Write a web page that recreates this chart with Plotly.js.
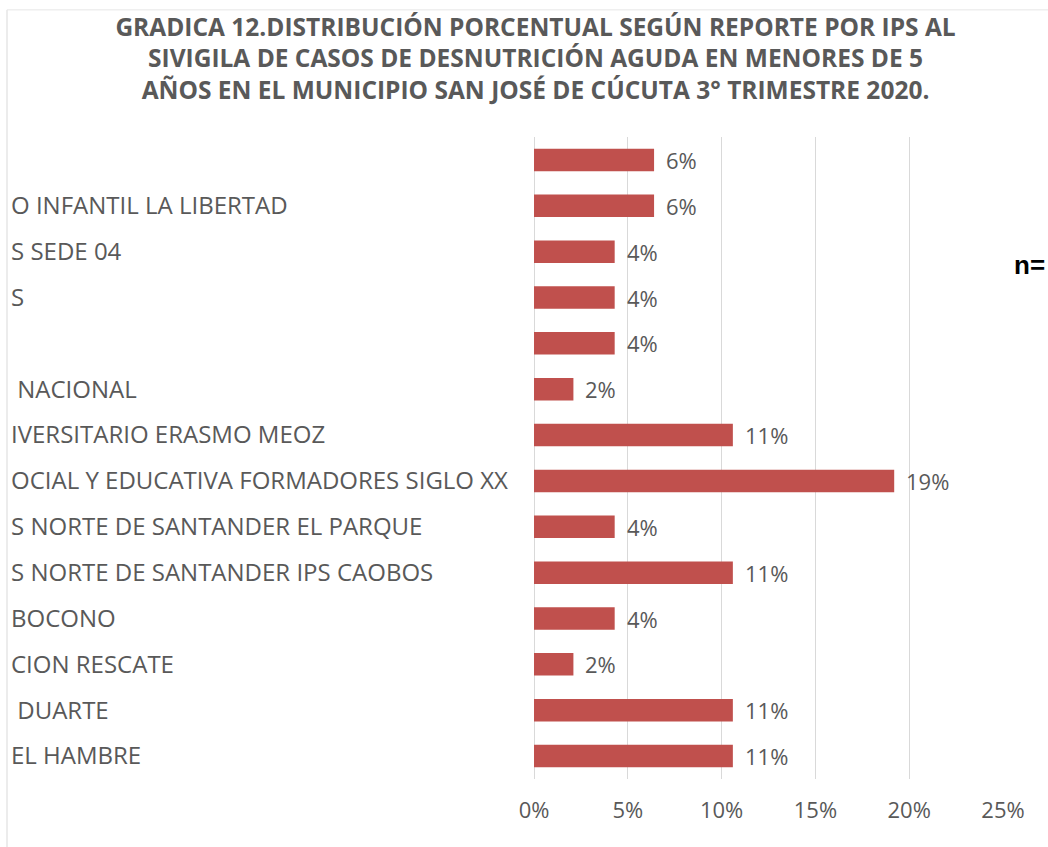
<!DOCTYPE html>
<html>
<head>
<meta charset="utf-8">
<script src="https://cdn.plot.ly/plotly-3.0.1.min.js"></script>
<style>html,body{margin:0;padding:0;background:#fff;}#chart{width:1048px;height:847px;}</style>
</head>
<body>
<div id="chart"></div>
<script>
// Category labels (as visible in the cropped reference), top to bottom
const categories = [
  "",
  "O INFANTIL LA LIBERTAD",
  "S SEDE 04",
  "S",
  "",
  " NACIONAL",
  "IVERSITARIO ERASMO MEOZ",
  "OCIAL Y EDUCATIVA FORMADORES SIGLO XX",
  "S NORTE DE SANTANDER EL PARQUE",
  "S NORTE DE SANTANDER IPS CAOBOS",
  "BOCONO",
  "CION RESCATE",
  " DUARTE",
  "EL HAMBRE"
];
// Percent values
const values = [6.4, 6.4, 4.3, 4.3, 4.3, 2.1, 10.6, 19.2, 4.3, 10.6, 4.3, 2.1, 10.6, 10.6];
// Data labels as printed
const valueLabels = ["6%", "6%", "4%", "4%", "4%", "2%", "11%", "19%", "4%", "11%", "4%", "2%", "11%", "11%"];
// X axis ticks
const xTicks = [0, 5, 10, 15, 20, 25];
const xTickLabels = ["0%", "5%", "10%", "15%", "20%", "25%"];

const titleText = "GRADICA 12.DISTRIBUCIÓN PORCENTUAL SEGÚN REPORTE POR IPS AL<br>SIVIGILA DE CASOS DE DESNUTRICIÓN AGUDA EN MENORES DE 5<br>AÑOS EN EL MUNICIPIO SAN JOSÉ DE CÚCUTA 3° TRIMESTRE 2020.";
const nText = "n=";

const idx = categories.map((_, i) => i);
const grey = "#595959";
const FONT = "Open Sans, sans-serif";

const trace = {
  type: "bar",
  orientation: "h",
  x: values,
  y: idx,
  width: 0.49,
  marker: {color: "#C0504D"},
  hoverinfo: "x",
  showlegend: false
};

const annotations = values.map((v, i) => ({
  x: v, y: i, xref: "x", yref: "y",
  text: valueLabels[i], showarrow: false,
  xanchor: "left", yanchor: "middle", xshift: 10,
  font: {family: FONT, size: 22, color: grey}
}));
annotations.push({
  xref: "paper", yref: "paper", x: 1.0095, y: 0.80,
  text: "<b>" + nText + "</b>", showarrow: false,
  xanchor: "left", yanchor: "middle",
  font: {family: "Liberation Sans, Arial, sans-serif", size: 26, color: "#000"}
});

const layout = {
  width: 1048, height: 847,
  margin: {l: 8, r: 45, t: 137, b: 68, pad: 0},
  paper_bgcolor: "#fff", plot_bgcolor: "#fff",
  title: {
    text: titleText,
    x: 0.511, xref: "container", xanchor: "center",
    y: 0.958, yref: "container", yanchor: "middle",
    font: {family: FONT, size: 24.5, color: grey, weight: 700}
  },
  xaxis: {
    range: [-28.04, 25],
    tickvals: xTicks, ticktext: xTickLabels,
    showgrid: true, gridcolor: "#d9d9d9", gridwidth: 1,
    zeroline: false, showline: false, ticks: "",
    ticklabelstandoff: 16,
    tickfont: {family: FONT, size: 22, color: grey},
    fixedrange: true
  },
  yaxis: {
    range: [13.5, -0.5],
    tickvals: idx, ticktext: categories,
    ticklabelposition: "inside",
    showgrid: false, zeroline: false, showline: false, ticks: "",
    tickfont: {family: FONT, size: 24, color: grey},
    fixedrange: true
  },
  shapes: [
    {type: "line", xref: "paper", yref: "paper", x0: -0.001, x1: -0.001, y0: 1.198, y1: -0.12, line: {color: "#d9d9d9", width: 1}},
    {type: "line", xref: "paper", yref: "paper", x0: -0.001, x1: 1.06, y0: 1.198, y1: 1.198, line: {color: "#e6e6e6", width: 1}}
  ],
  annotations: annotations,
  bargap: 0.5
};

Plotly.newPlot("chart", [trace], layout, {displayModeBar: false, staticPlot: true});
</script>
</body>
</html>
